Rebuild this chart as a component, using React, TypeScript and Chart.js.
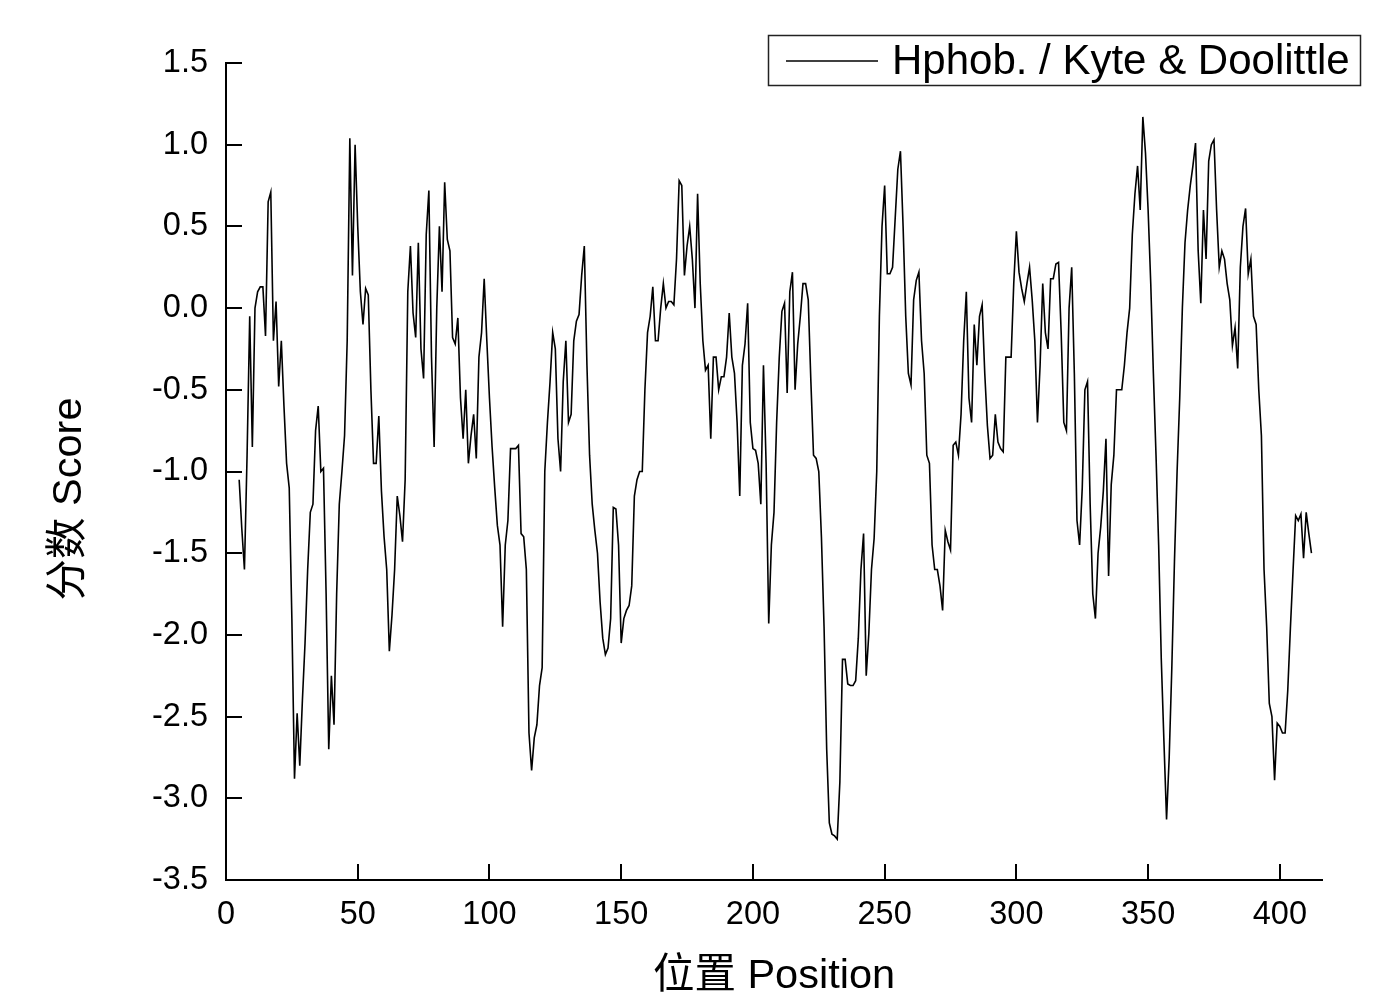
import React, { useEffect, useRef } from "react";
import { Chart, registerables } from "chart.js";

Chart.register(...registerables);

// Kyte & Doolittle hydrophobicity scores, one per residue position
const startPosition = 5;

const scoresPart1 = [
  -1.05, -1.35, -1.6, -0.9, -0.05, -0.85, 0.0, 0.1, 0.13, 0.13,
  -0.17, 0.65, 0.71, -0.2, 0.04, -0.48, -0.2, -0.6, -0.95, -1.1,
  -1.9, -2.88, -2.48, -2.8, -2.4, -2.05, -1.6, -1.25, -1.2, -0.75,
  -0.6, -1.0, -0.98, -1.75, -2.7, -2.25, -2.55, -1.75, -1.2, -1.0,
  -0.78, -0.2, 1.04, 0.2, 1.0, 0.5, 0.1, -0.1, 0.12, 0.08,
  -0.5, -0.95, -0.95, -0.66, -1.12, -1.4, -1.6, -2.1, -1.88, -1.6,
  -1.15, -1.27, -1.43, -1.05, 0.1, 0.38, -0.03, -0.18, 0.4, -0.25,
  -0.43, 0.45, 0.72, -0.3, -0.85, 0.0, 0.5, 0.1, 0.77, 0.42,
  0.35, -0.18, -0.22, -0.06, -0.55, -0.8, -0.5, -0.95, -0.78, -0.65,
  -0.92, -0.3, -0.15, 0.18, -0.2, -0.55, -0.85, -1.1, -1.33, -1.45,
];

const scoresPart2 = [
  -1.95, -1.45, -1.3, -0.86, -0.86, -0.86, -0.84, -1.38, -1.4, -1.6,
  -2.6, -2.83, -2.63, -2.55, -2.31, -2.2, -1.0, -0.7, -0.45, -0.15,
  -0.25, -0.8, -1.0, -0.45, -0.2, -0.7, -0.65, -0.2, -0.08, -0.04,
  0.2, 0.38, -0.35, -0.9, -1.2, -1.36, -1.5, -1.8, -2.02, -2.12,
  -2.08, -1.9, -1.22, -1.23, -1.45, -2.05, -1.9, -1.85, -1.82, -1.7,
  -1.15, -1.05, -1.0, -1.0, -0.5, -0.15, -0.05, 0.13, -0.2, -0.2,
  0.0, 0.15, 0.0, 0.04, 0.04, 0.02, 0.3, 0.78, 0.75, 0.2,
  0.38, 0.5, 0.3, 0.0, 0.7, 0.15, -0.2, -0.38, -0.35, -0.8,
  -0.3, -0.3, -0.5, -0.42, -0.42, -0.3, -0.03, -0.3, -0.4, -0.7,
  -1.15, -0.35, -0.22, 0.03, -0.7, -0.86, -0.87, -0.95, -1.2, -0.35,
];

const scoresPart3 = [
  -0.95, -1.93, -1.45, -1.25, -0.7, -0.3, -0.02, 0.03, -0.52, 0.1,
  0.22, -0.5, -0.22, -0.05, 0.15, 0.15, 0.05, -0.45, -0.9, -0.92,
  -1.0, -1.4, -1.95, -2.7, -3.15, -3.22, -3.23, -3.25, -2.9, -2.15,
  -2.15, -2.3, -2.31, -2.31, -2.28, -2.02, -1.6, -1.38, -2.25, -1.99,
  -1.6, -1.41, -1.0, -0.05, 0.5, 0.75, 0.21, 0.21, 0.25, 0.55,
  0.85, 0.96, 0.5, -0.05, -0.4, -0.47, 0.05, 0.17, 0.22, -0.2,
  -0.4, -0.9, -0.95, -1.45, -1.6, -1.6, -1.7, -1.85, -1.36, -1.43,
  -1.48, -0.84, -0.82, -0.9, -0.65, -0.2, 0.1, -0.55, -0.7, -0.1,
  -0.35, -0.05, 0.02, -0.4, -0.72, -0.92, -0.9, -0.65, -0.82, -0.86,
  -0.88, -0.3, -0.3, -0.3, 0.15, 0.47, 0.22, 0.12, 0.04, 0.15,
];

const scoresPart4 = [
  0.25, 0.05, -0.2, -0.7, -0.35, 0.15, -0.15, -0.25, 0.18, 0.18,
  0.27, 0.28, -0.15, -0.7, -0.75, 0.0, 0.25, -0.4, -1.3, -1.45,
  -1.1, -0.5, -0.45, -1.2, -1.75, -1.9, -1.5, -1.34, -1.12, -0.8,
  -1.64, -1.08, -0.9, -0.5, -0.5, -0.5, -0.35, -0.15, 0.0, 0.45,
  0.7, 0.87, 0.6, 1.17, 0.95, 0.6, 0.15, -0.4, -0.9, -1.45,
  -2.15, -2.65, -3.13, -2.75, -2.2, -1.55, -1.0, -0.55, 0.0, 0.4,
  0.6, 0.75, 0.87, 1.01, 0.35, 0.03, 0.6, 0.3, 0.9, 1.0,
  1.03, 0.6, 0.25, 0.35, 0.3, 0.15, 0.05, -0.23, -0.12, -0.37,
  0.25, 0.5, 0.61, 0.21, 0.3, -0.05, -0.1, -0.5, -0.78, -1.6,
  -1.95, -2.42, -2.5, -2.89, -2.54, -2.56, -2.6, -2.6, -2.34, -1.96,
  -1.61, -1.27, -1.3, -1.26, -1.53, -1.25, -1.38, -1.5,
];

const seriesLabel = "Hphob. / Kyte & Doolittle";
const xTitle = "位置 Position";
const yTitle = "分数 Score";
const xTickValues = [0, 50, 100, 150, 200, 250, 300, 350, 400];

const FONT = '"Liberation Sans", Arial, "Noto Sans CJK SC", sans-serif';

const overlay = {
  id: "overlay",
  afterDraw(chart: any) {
    const { ctx, chartArea, scales } = chart;
    const x = scales.x;
    const y = scales.y;
    ctx.save();
    ctx.strokeStyle = "#000";
    ctx.lineWidth = 2;
    const tl = 16;
    y.ticks.forEach((t: any) => {
      const py = Math.round(y.getPixelForValue(t.value));
      ctx.beginPath();
      ctx.moveTo(chartArea.left, py);
      ctx.lineTo(chartArea.left + tl, py);
      ctx.stroke();
    });
    x.ticks.forEach((t: any) => {
      const px = Math.round(x.getPixelForValue(t.value));
      ctx.beginPath();
      ctx.moveTo(px, chartArea.bottom);
      ctx.lineTo(px, chartArea.bottom - tl);
      ctx.stroke();
    });

    // axis titles
    ctx.fillStyle = "#000";
    ctx.font = `41.5px ${FONT}`;
    ctx.textAlign = "center";
    ctx.textBaseline = "middle";
    ctx.fillText(xTitle, (chartArea.left + chartArea.right) / 2, 977);
    ctx.save();
    ctx.translate(70, 499);
    ctx.rotate(-Math.PI / 2);
    ctx.fillText(yTitle, 0, 0);
    ctx.restore();

    // legend box
    const ds = chart.data.datasets[0];
    ctx.lineWidth = 1.5;
    ctx.strokeStyle = "#222";
    ctx.strokeRect(768.5, 35.5, 592, 50);
    ctx.strokeStyle = ds.borderColor;
    ctx.lineWidth = 1.5;
    ctx.beginPath();
    ctx.moveTo(786, 61);
    ctx.lineTo(878, 61);
    ctx.stroke();
    ctx.font = `42px ${FONT}`;
    ctx.textAlign = "left";
    ctx.textBaseline = "middle";
    ctx.fillText(ds.label, 892, 62);
    ctx.restore();
  },
};

export default function App() {
  const ref = useRef<HTMLCanvasElement | null>(null);

  useEffect(() => {
    const canvas = ref.current;
    if (!canvas) return;
    const allScores = [...scoresPart1, ...scoresPart2, ...scoresPart3, ...scoresPart4];
    const points = allScores.map((v, i) => ({ x: startPosition + i, y: v }));

    const chart = new Chart(canvas, {
      type: "line",
      data: {
        datasets: [
          {
            label: seriesLabel,
            data: points,
            borderColor: "#000",
            borderWidth: 1.6,
            pointRadius: 0,
            tension: 0,
            fill: false,
          },
        ],
      },
      options: {
        responsive: false,
        animation: false,
        devicePixelRatio: 1,
        layout: { padding: { top: 63, right: 52, left: 0, bottom: 0 } },
        plugins: { legend: { display: false }, tooltip: { enabled: false } },
        scales: {
          x: {
            type: "linear",
            min: 0,
            max: 416,
            afterBuildTicks: (s: any) => {
              s.ticks = xTickValues.map((v) => ({ value: v }));
            },
            afterFit: (s: any) => {
              s.height = 121;
            },
            ticks: {
              autoSkip: false,
              maxRotation: 0,
              padding: 16,
              color: "#000",
              font: { family: FONT, size: 32.5 },
              callback: (v: any) => String(v),
            },
            grid: { display: false, drawTicks: false },
            border: { display: true, color: "#000", width: 2 },
          },
          y: {
            type: "linear",
            min: -3.5,
            max: 1.5,
            afterFit: (s: any) => {
              s.width = 226;
            },
            ticks: {
              stepSize: 0.5,
              autoSkip: false,
              padding: 18,
              color: "#000",
              font: { family: FONT, size: 32.5 },
              callback: (v: any) => Number(v).toFixed(1),
            },
            grid: { display: false, drawTicks: false },
            border: { display: true, color: "#000", width: 2 },
          },
        },
      },
      plugins: [overlay],
    });
    return () => chart.destroy();
  }, []);

  return (
    <div style={{ position: "absolute", left: 0, top: 0, width: 1374, height: 1001, background: "#fff" }}>
      <canvas ref={ref} width={1374} height={1001} style={{ width: 1374, height: 1001, display: "block" }} />
    </div>
  );
}
